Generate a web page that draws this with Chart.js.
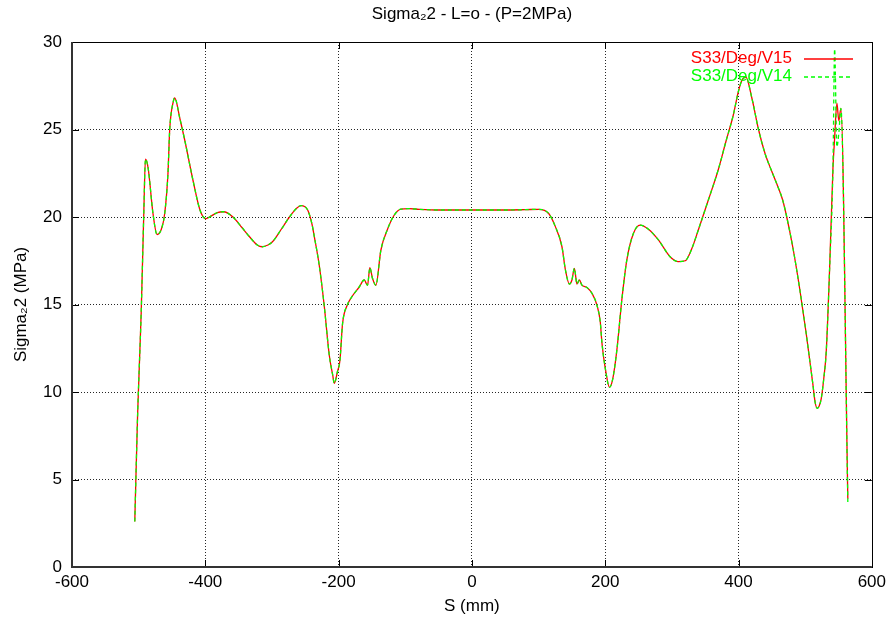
<!DOCTYPE html>
<html>
<head>
<meta charset="utf-8">
<title>Sigma22 - L=o - (P=2MPa)</title>
<script src="https://cdn.jsdelivr.net/npm/chart.js@4.4.1/dist/chart.umd.min.js"></script>
<style>
  body { margin: 0; background: #fff; }
  canvas { display: block; }
</style>
</head>
<body>
<canvas id="stressChart" width="891" height="626"></canvas>
<script>
// S positions (mm) and the two stress series (MPa)
const sValues = [
    -505.8, -501.5, -496.2, -492.3, -489.8, -485.8, -478.5, -472.4, -466, -460.9,
    -456, -453.4, -448, -445.9, -438, -430.9, -418.5, -408, -399.5, -391,
    -382, -372.6, -358.6, -345, -333.7, -322, -314.7, -306, -298.8, -286,
    -273.8, -263, -256.3, -246.4, -240, -236.4, -228.9, -221.5, -214, -209,
    -206.5, -201.5, -198, -194.1, -186.6, -179.1, -169.1, -161.6, -156.6, -153.1,
    -149.2, -144.1, -136.6, -126.6, -116.7, -106.7, -94.3, -79.3, -50, 0,
    50, 80, 100.3, 115.2, 125.2, 135.1, 140.2, 146.2, 150.1, 153.7,
    157.6, 161.2, 165.1, 172.6, 180.1, 187.5, 192.6, 195.1, 200.1, 206.5,
    211, 217.5, 224.9, 232.4, 242.4, 252.4, 264.9, 279.8, 297.3, 309.7,
    320, 330, 339.7, 355, 369.6, 381, 392, 400, 405, 411,
    420, 430, 440, 450, 459.4, 466, 471.8, 481.8, 491.8, 501.7,
    511.7, 515, 518.2, 521, 524.2, 528, 531.6, 536.7, 541.7, 544.2,
    547.6, 550.5, 553.6, 564
];

const sigmaV15 = [
    2.6, 8.8, 14.5, 20.2, 23.3, 22.8, 20.2, 19.0, 19.3, 20.2,
    22.5, 25.0, 26.6, 26.8, 25.6, 24.4, 22.1, 20.4, 19.9, 20.06,
    20.25, 20.3, 20.0, 19.4, 18.87, 18.4, 18.3, 18.4, 18.6, 19.3,
    20.0, 20.5, 20.65, 20.4, 19.6, 18.87, 17.2, 14.9, 12.1, 11.0,
    10.5, 11.2, 11.8, 13.9, 15.0, 15.5, 16.0, 16.4, 16.1, 17.1,
    16.5, 16.1, 18.1, 19.3, 20.1, 20.45, 20.48, 20.44, 20.4, 20.4,
    20.4, 20.42, 20.44, 20.2, 19.45, 18.3, 17.0, 16.17, 16.4, 17.07,
    16.17, 16.4, 16.11, 15.97, 15.64, 14.97, 14.0, 12.8, 11.35, 10.27,
    10.69, 12.4, 15.26, 17.54, 19.07, 19.54, 19.3, 18.69, 17.73, 17.45,
    17.5, 18.2, 19.26, 21.0, 22.7, 24.3, 25.8, 27.2, 27.8, 28.0,
    26.8, 25.0, 23.6, 22.6, 21.7, 21.0, 20.1, 18.2, 15.9, 13.3,
    10.4, 9.4, 9.07, 9.2, 9.64, 10.8, 12.3, 17.07, 22.8, 24.5,
    26.5, 25.5, 26.2, 3.9
];

const sigmaV14 = [
    2.6, 8.8, 14.5, 20.2, 23.3, 22.8, 20.2, 19.0, 19.3, 20.2,
    22.5, 25.0, 26.6, 26.8, 25.6, 24.4, 22.1, 20.4, 19.9, 20.06,
    20.25, 20.3, 20.0, 19.4, 18.87, 18.4, 18.3, 18.4, 18.6, 19.3,
    20.0, 20.5, 20.65, 20.4, 19.6, 18.87, 17.2, 14.9, 12.1, 11.0,
    10.5, 11.2, 11.8, 13.9, 15.0, 15.5, 16.0, 16.4, 16.1, 17.1,
    16.5, 16.1, 18.1, 19.3, 20.1, 20.45, 20.48, 20.44, 20.4, 20.4,
    20.4, 20.42, 20.44, 20.2, 19.45, 18.3, 17.0, 16.17, 16.4, 17.07,
    16.17, 16.4, 16.11, 15.97, 15.64, 14.97, 14.0, 12.8, 11.35, 10.27,
    10.69, 12.4, 15.26, 17.54, 19.07, 19.54, 19.3, 18.69, 17.73, 17.45,
    17.5, 18.2, 19.26, 21.0, 22.7, 24.3, 25.8, 27.2, 27.8, 28.0,
    26.8, 25.0, 23.6, 22.6, 21.7, 21.0, 20.1, 18.2, 15.9, 13.3,
    10.4, 9.4, 9.07, 9.2, 9.64, 10.8, 12.3, 17.07, 22.8, 29.6,
    24.0, 24.8, 26.2, 3.7
];

const xTicks = [-600, -400, -200, 0, 200, 400, 600];
const yTicks = [0, 5, 10, 15, 20, 25, 30];

const fontFamily = '"Liberation Sans", Arial, Helvetica, sans-serif';
Chart.defaults.font.family = fontFamily;
Chart.defaults.font.size = 17;
Chart.defaults.color = '#000';

function toPoints(xs, ys) {
    return xs.map((x, i) => ({ x: x, y: ys[i] }));
}

// gnuplot style frame with inward tics on all four sides
const framePlugin = {
    id: 'frame',
    afterDatasetsDraw(chart) {
        const { ctx, chartArea: a, scales } = chart;
        ctx.save();
        ctx.strokeStyle = '#000';
        ctx.lineWidth = 1;
        ctx.beginPath();
        xTicks.forEach(v => {
            const px = Math.round(scales.x.getPixelForValue(v)) + 0.5;
            ctx.moveTo(px, a.bottom); ctx.lineTo(px, a.bottom - 7);
            ctx.moveTo(px, a.top); ctx.lineTo(px, a.top + 7);
        });
        yTicks.forEach(v => {
            const py = Math.round(scales.y.getPixelForValue(v)) + 0.5;
            ctx.moveTo(a.left, py); ctx.lineTo(a.left + 7, py);
            ctx.moveTo(a.right, py); ctx.lineTo(a.right - 7, py);
        });
        ctx.stroke();
        ctx.strokeRect(Math.round(a.left) + 0.5, Math.round(a.top) + 0.5,
            Math.round(a.right - a.left), Math.round(a.bottom - a.top));
        ctx.strokeStyle = '#333';
        ctx.lineWidth = 2;
        ctx.beginPath();
        ctx.moveTo(a.left, a.top); ctx.lineTo(a.left, a.bottom); ctx.lineTo(a.right, a.bottom);
        ctx.stroke();
        ctx.restore();
    }
};

// key in the top right corner: text on the left, line sample on the right
const keyPlugin = {
    id: 'key',
    afterDraw(chart) {
        const ctx = chart.ctx;
        const rows = [58, 76];
        ctx.save();
        ctx.font = '17px ' + fontFamily;
        ctx.textAlign = 'right';
        ctx.textBaseline = 'middle';
        chart.data.datasets.forEach((ds, i) => {
            const y = rows[i];
            ctx.fillStyle = ds.borderColor;
            ctx.fillText(ds.label, 792, y);
            ctx.strokeStyle = ds.borderColor;
            ctx.lineWidth = ds.borderWidth;
            ctx.setLineDash(ds.borderDash || []);
            ctx.beginPath();
            ctx.moveTo(804, y + 1);
            ctx.lineTo(853, y + 1);
            ctx.stroke();
        });
        ctx.restore();
    }
};

const ctx = document.getElementById('stressChart').getContext('2d');
const stressChart = new Chart(ctx, {
    type: 'line',
    data: {
        datasets: [{
            label: 'S33/Deg/V15',
            data: toPoints(sValues, sigmaV15),
            borderColor: '#ff0000',
            borderWidth: 1.3,
            pointRadius: 0,
            cubicInterpolationMode: 'monotone',
            order: 1
        }, {
            label: 'S33/Deg/V14',
            data: toPoints(sValues, sigmaV14),
            borderColor: '#00ff00',
            borderWidth: 1.3,
            borderDash: [4, 3],
            pointRadius: 0,
            cubicInterpolationMode: 'monotone',
            order: 0
        }]
    },
    options: {
        responsive: false,
        animation: false,
        events: [],
        layout: { padding: { right: 17 } },
        plugins: {
            legend: { display: false },
            tooltip: { enabled: false },
            title: {
                display: true,
                fullSize: false,
                text: 'Sigma\u20822 - L=o - (P=2MPa)',
                color: '#000',
                font: { size: 17, weight: 'normal' },
                padding: { top: 4, bottom: 17.6 }
            }
        },
        scales: {
            x: {
                type: 'linear',
                min: -600,
                max: 600,
                afterBuildTicks: scale => { scale.ticks = xTicks.map(v => ({ value: v })); },
                afterFit: scale => { scale.height = 59; },
                ticks: { color: '#000', padding: 5, maxRotation: 0 },
                grid: {
                    drawTicks: false,
                    color: c => (c.tick && (c.tick.value === -600 || c.tick.value === 600)) ? 'rgba(0,0,0,0)' : 'rgba(0,0,0,0.85)'
                },
                border: { display: false, dash: [1, 2] },
                title: { display: true, text: 'S (mm)', color: '#000', padding: { top: 0, bottom: 9 } }
            },
            y: {
                min: 0,
                max: 30,
                afterBuildTicks: scale => { scale.ticks = yTicks.map(v => ({ value: v })); },
                afterFit: scale => { scale.width = 72; },
                ticks: { color: '#000', padding: 10 },
                grid: {
                    drawTicks: false,
                    color: c => (c.tick && (c.tick.value === 0 || c.tick.value === 30)) ? 'rgba(0,0,0,0)' : 'rgba(0,0,0,0.85)'
                },
                border: { display: false, dash: [1, 2] },
                title: { display: true, text: 'Sigma\u20822 (MPa)', color: '#000', padding: { top: 11, bottom: 0 } }
            }
        }
    },
    plugins: [framePlugin, keyPlugin]
});
</script>
</body>
</html>
